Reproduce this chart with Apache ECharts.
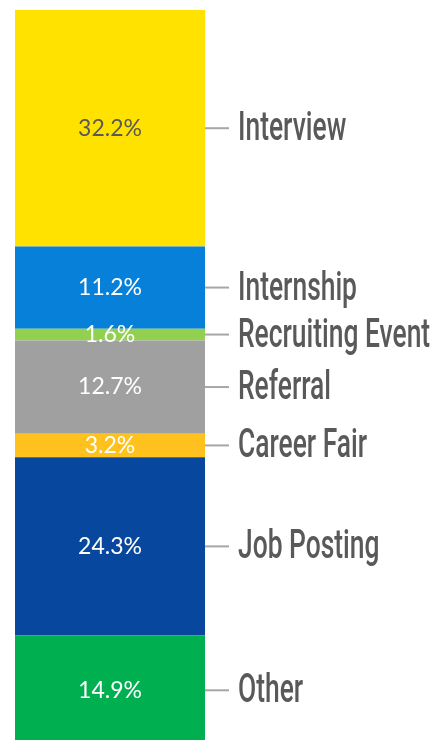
<!DOCTYPE html>
<html>
<head>
<meta charset="utf-8">
<script src="https://cdn.jsdelivr.net/npm/echarts@6/dist/echarts.min.js"></script>
<style>
    html,body{margin:0;padding:0;background:#fff;}
    #chart01{width:433px;height:740px;}
</style>
</head>
<body>
<div id="chart01"></div>
<script>
// data, top to bottom
var names = ['Interview','Internship','Recruiting Event','Referral','Career Fair','Job Posting','Other'];
var values = [32.2, 11.2, 1.6, 12.7, 3.2, 24.3, 14.9];
var colors = ['#ffe200','#0680d8','#92d050','#a0a0a0','#ffc11d','#07479d','#00b050'];
var labelColors = ['#595959','#fff','#fff','#fff','#fff','#fff','#fff'];

var total = 0;
for (var i = 0; i < values.length; i++) total += values[i];

var myChart = echarts.init(document.getElementById('chart01'));

var series = [];
for (var i = 0; i < names.length; i++) {
    series.push({
        name: names[i],
        type: 'bar',
        stack: 'all',
        barWidth: '100%',
        data: [values[i]],
        itemStyle: {color: colors[i]},
        label: {
            show: true,
            position: 'inside',
            formatter: '{c}%',
            color: labelColors[i],
            fontFamily: 'Lato',
            fontSize: 23,
            textBorderWidth: 0
        },
        emphasis: {disabled: true}
    });
}

// the bar runs a little past the bottom edge of the picture
option = {
    animation: false,
    grid: {left: 15, width: 190, top: 10, height: 735, outerBoundsMode: 'none'},
    xAxis: {type: 'category', data: ['Source'], show: false},
    yAxis: {type: 'value', min: 0, max: total, inverse: true, show: false},
    series: series
};
myChart.setOption(option);

// right side names with leader lines
var graphics = [];
var acc = 0;
var xRight = 205;
for (var i = 0; i < names.length; i++) {
    var mid = acc + values[i] / 2;
    acc += values[i];
    var y = myChart.convertToPixel({yAxisIndex: 0}, mid);
    graphics.push({
        type: 'line',
        shape: {x1: xRight, y1: y, x2: xRight + 24, y2: y},
        style: {stroke: '#a6a6a6', lineWidth: 2}
    });
    graphics.push({
        type: 'text',
        x: 238,
        y: y + 2,
        scaleX: 0.66,
        style: {
            text: names[i],
            font: '500 40px Roboto',
            fill: '#595959',
            align: 'left',
            verticalAlign: 'middle',
            textAlign: 'left',
            textVerticalAlign: 'middle'
        }
    });
}
myChart.setOption({graphic: graphics});
</script>
</body>
</html>
